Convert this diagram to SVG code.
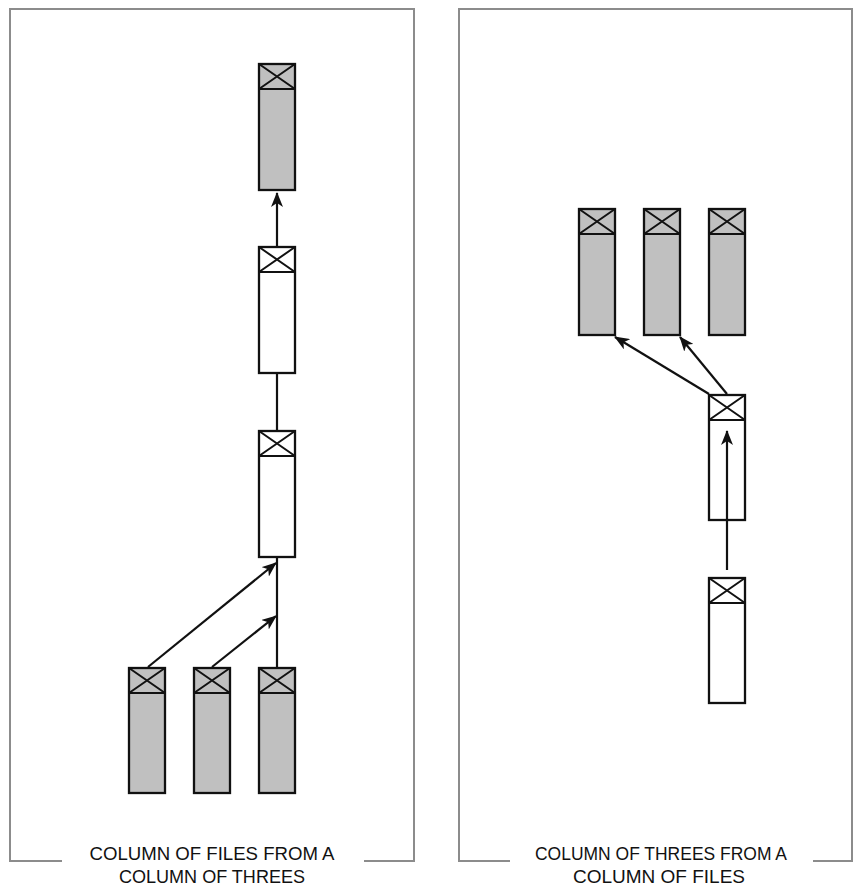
<svg xmlns="http://www.w3.org/2000/svg" width="854" height="888" viewBox="0 0 854 888">
<style>
.frame{fill:none;stroke:#8c8c8c;stroke-width:2}
.box{stroke:#111;stroke-width:2.3}
.gray{fill:#c0c0c0}
.white{fill:#fff}
.x{fill:none;stroke:#111;stroke-width:2}
.conn{fill:none;stroke:#111;stroke-width:2.2}
.lbl{font-family:"Liberation Sans",Arial,sans-serif;font-size:19px;fill:#111;text-anchor:middle}
</style>
<defs>
<marker id="ah" markerUnits="userSpaceOnUse" markerWidth="15" markerHeight="12" refX="14" refY="6" orient="auto" viewBox="0 0 15 12">
<path d="M0,0 L15,6 L0,12 L4,6 z" fill="#111"/>
</marker>
<g id="node-shape">
<path class="x" d="M0,0 L36,25 M36,0 L0,25 M0,25 H36"/>
</g>
</defs>
<rect width="854" height="888" fill="#fff"/>
<g id="frames">
<path class="frame" d="M62,861 H10 V9 H414 V861 H364"/>
<path class="frame" d="M510,861 H459 V9 H852 V861 H813"/>
</g>
<g id="L1" transform="translate(259,64)"><rect class="box gray" width="36" height="126"/><use href="#node-shape"/></g>
<g id="L2" transform="translate(259,247)"><rect class="box white" width="36" height="126"/><use href="#node-shape"/></g>
<g id="L3" transform="translate(259,431)"><rect class="box white" width="36" height="126"/><use href="#node-shape"/></g>
<g id="L4" transform="translate(129,668)"><rect class="box gray" width="36" height="125"/><use href="#node-shape"/></g>
<g id="L5" transform="translate(194,668)"><rect class="box gray" width="36" height="125"/><use href="#node-shape"/></g>
<g id="L6" transform="translate(259,668)"><rect class="box gray" width="36" height="125"/><use href="#node-shape"/></g>
<g id="R1" transform="translate(579,209)"><rect class="box gray" width="36" height="126"/><use href="#node-shape"/></g>
<g id="R2" transform="translate(644,209)"><rect class="box gray" width="36" height="126"/><use href="#node-shape"/></g>
<g id="R3" transform="translate(709,209)"><rect class="box gray" width="36" height="126"/><use href="#node-shape"/></g>
<g id="R4" transform="translate(709,395)"><rect class="box white" width="36" height="125"/><use href="#node-shape"/></g>
<g id="R5" transform="translate(709,578)"><rect class="box white" width="36" height="125"/><use href="#node-shape"/></g>
<g id="connectors">
<line class="conn" x1="277" y1="246" x2="277" y2="193" marker-end="url(#ah)"/>
<line class="conn" x1="277" y1="374" x2="277" y2="430"/>
<line class="conn" x1="277" y1="667" x2="277" y2="558"/>
<line class="conn" x1="148" y1="667" x2="276" y2="563" marker-end="url(#ah)"/>
<line class="conn" x1="212" y1="667" x2="276" y2="616" marker-end="url(#ah)"/>
<line class="conn" x1="727" y1="570" x2="727" y2="431" marker-end="url(#ah)"/>
<line class="conn" x1="709" y1="394" x2="615" y2="337" marker-end="url(#ah)"/>
<line class="conn" x1="727" y1="394" x2="680" y2="337" marker-end="url(#ah)"/>
</g>
<g id="labels">
<text class="lbl" x="212" y="860" textLength="245" lengthAdjust="spacingAndGlyphs">COLUMN OF FILES FROM A</text>
<text class="lbl" x="212" y="883" textLength="186" lengthAdjust="spacingAndGlyphs">COLUMN OF THREES</text>
<text class="lbl" x="661" y="860" textLength="252" lengthAdjust="spacingAndGlyphs">COLUMN OF THREES FROM A</text>
<text class="lbl" x="659" y="883" textLength="172" lengthAdjust="spacingAndGlyphs">COLUMN OF FILES</text>
</g>
</svg>
